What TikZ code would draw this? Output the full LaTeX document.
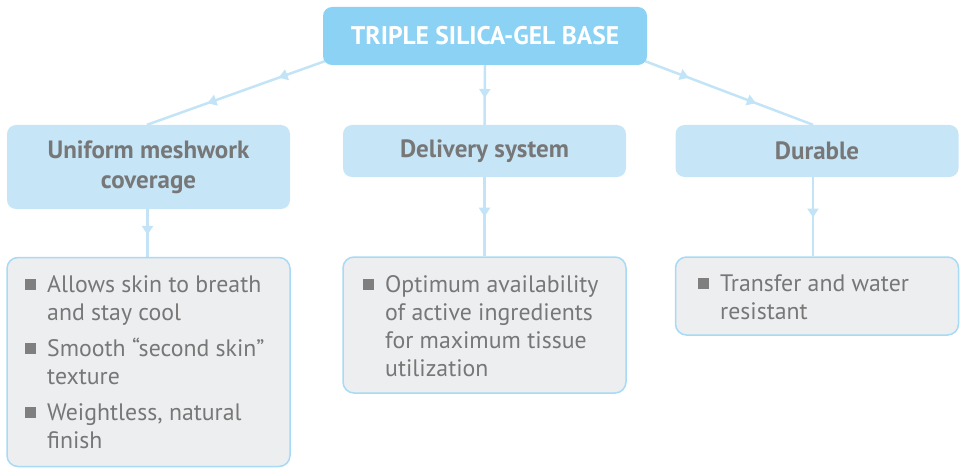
\documentclass[tikz,border=0pt]{standalone}
\usepackage{fontspec}
\setmainfont{PT Sans}
\usetikzlibrary{arrows.meta,decorations.markings,calc,backgrounds}
\definecolor{topfill}{HTML}{8CD2F4}
\definecolor{midfill}{HTML}{C6E6F8}
\definecolor{botfill}{HTML}{EDEEF0}
\definecolor{botline}{HTML}{A6DAF5}
\definecolor{txtgray}{HTML}{777777}
\definecolor{bulc}{HTML}{7F7F7F}
\definecolor{linec}{HTML}{C3E4F7}
\newcommand\bul[1]{\par\hangindent=22pt\hangafter=1\noindent\makebox[22pt][l]{\textcolor{bulc}{\rule[2pt]{11pt}{11pt}}}#1\par}
\newcommand\bulbox[1]{\parbox[t]{270pt}{\setlength\parskip{8pt}\fontsize{23.8}{28}\selectfont #1}}
\newcommand\atip{\arrow[color=linec]{Triangle[width=11pt,length=9pt]}}
\begin{document}
\begin{tikzpicture}[x=1pt,y=-1pt,
 topbox/.style={fill=topfill, rounded corners=9pt, minimum width=324pt, minimum height=58pt, inner sep=0, text=white, font=\bfseries\fontsize{25.5}{28}\selectfont},
 midbox/.style={fill=midfill, rounded corners=9pt, minimum width=283pt, inner sep=0, text=txtgray, align=center, font=\bfseries\fontsize{25}{30}\selectfont},
 botbox/.style={fill=botfill, draw=botline, line width=1.5pt, rounded corners=11pt, minimum width=283pt, inner sep=0},
 bultext/.style={anchor=base west, inner sep=0, text=txtgray},
 conn/.style={draw=linec, line width=2.5pt, postaction=decorate}
]
\useasboundingbox (0,0) rectangle (963,468);
\node[topbox] (top) at (485,36) {TRIPLE SILICA-GEL BASE};
\node[midbox, minimum height=84pt] (m1) at (148.5,167) {Uniform meshwork\\coverage};
\node[midbox, minimum height=52pt] (m2) at (484.5,151) {Delivery system};
\node[midbox, minimum height=52pt] (m3) at (817,151) {Durable};
\node[botbox, minimum height=209pt] (b1) at (148.5,362) {};
\node[botbox, minimum height=136pt] (b2) at (484.5,325) {};
\node[botbox, minimum height=78pt] (b3) at (817,296) {};
\node[bultext] (t1) at (25,292) {\bulbox{\bul{Allows skin to breath\\and stay cool}\bul{Smooth “second skin”\\texture}\bul{Weightless, natural\\finish}}};
\node[bultext] (t2) at (363,292) {\bulbox{\bul{Optimum availability\\of active ingredients\\for maximum tissue\\utilization}}};
\node[bultext] (t3) at (698,291) {\bulbox{\bul{Transfer and water\\resistant}}};
\begin{scope}[on background layer]
\draw[conn, decoration={markings, mark=at position .26 with {\atip}, mark=at position .66 with {\atip}}] ($(top.south west)+(2,-4)$) -- ($(m1.north)+(-1.5,0)$);
\draw[conn, decoration={markings, mark=at position .55 with {\atip}}] (top.south) -- (m2.north);
\draw[conn, decoration={markings, mark=at position .26 with {\atip}, mark=at position .66 with {\atip}}] ($(top.south east)+(-2,-4)$) -- ($(m3.north)+(-4,0)$);
\draw[conn, decoration={markings, mark=at position .54 with {\atip}}] ($(m1.south)+(-1,0)$) -- ($(b1.north)+(-1,0)$);
\draw[conn, decoration={markings, mark=at position .5 with {\atip}}] (m2.south) -- (b2.north);
\draw[conn, decoration={markings, mark=at position .51 with {\atip}}] ($(m3.south)+(-4,0)$) -- ($(b3.north)+(-4,0)$);
\end{scope}
\end{tikzpicture}
\end{document}
